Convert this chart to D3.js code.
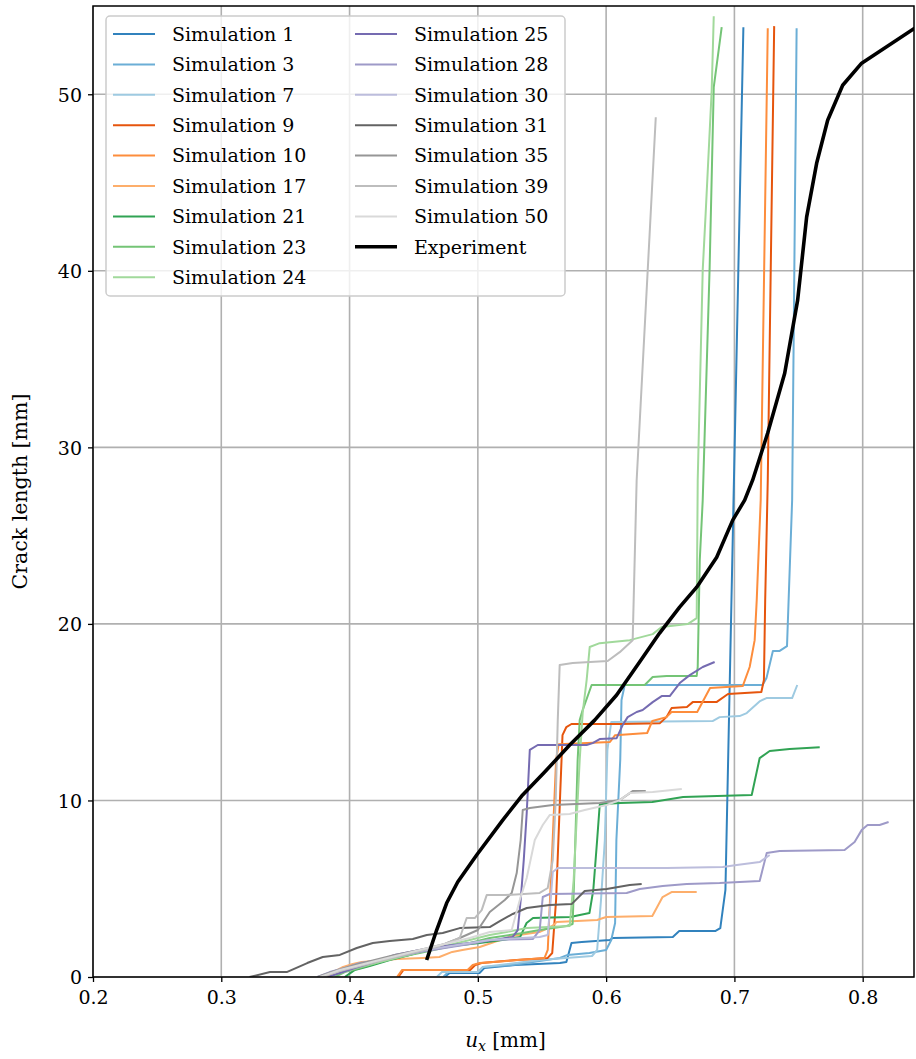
<!DOCTYPE html>
<meta charset="utf-8">
<script src="https://d3js.org/d3.v7.min.js"></script>
<style>
body { margin: 0; background: #fff; }
svg text { font-family: "DejaVu Serif", serif; fill: #000; }
</style>
<svg id="chart" width="916" height="1059"></svg>
<script>
// crack length [mm] against displacement u_x [mm]
const sim1 = [[0.474,0],[0.478,0.23],[0.5015,0.23],[0.505,0.51],[0.529,0.68],[0.564,0.79],[0.569,0.85],[0.573,1.93],[0.581,1.98],[0.603,2.10],[0.605,2.21],[0.652,2.27],[0.657,2.60],[0.685,2.60],[0.689,2.77],[0.693,4.93],[0.707,53.8]];
const sim3 = [[0.473,0],[0.477,0.28],[0.5,0.28],[0.504,0.57],[0.527,0.68],[0.564,1.08],[0.570,1.25],[0.587,1.36],[0.600,1.53],[0.604,2.10],[0.607,3.06],[0.608,7.76],[0.611,12.29],[0.612,15.69],[0.6145,16.54],[0.722,16.54],[0.725,16.93],[0.730,18.46],[0.735,18.46],[0.741,18.74],[0.745,27.0],[0.7485,53.74]];
const sim7 = [[0.468,0],[0.472,0.28],[0.5,0.28],[0.504,0.57],[0.548,0.96],[0.579,1.13],[0.589,1.19],[0.593,1.53],[0.596,4.36],[0.599,7.76],[0.601,12.86],[0.604,14.44],[0.683,14.50],[0.6885,14.72],[0.704,14.78],[0.7096,14.95],[0.720,15.63],[0.725,15.80],[0.745,15.80],[0.749,16.54]];
const sim9 = [[0.438,0],[0.442,0.40],[0.494,0.40],[0.498,0.68],[0.503,0.79],[0.530,0.96],[0.5545,1.08],[0.558,1.36],[0.561,4.36],[0.564,10.02],[0.566,13.70],[0.569,14.16],[0.573,14.33],[0.611,14.33],[0.642,14.38],[0.647,14.72],[0.651,15.23],[0.663,15.29],[0.6675,15.57],[0.686,15.57],[0.695,16.03],[0.721,16.14],[0.723,16.82],[0.724,21.35],[0.726,28.14],[0.731,53.86]];
const sim10 = [[0.437,0],[0.441,0.40],[0.492,0.40],[0.496,0.68],[0.5015,0.79],[0.552,1.08],[0.5545,1.53],[0.558,7.19],[0.561,12.29],[0.563,13.19],[0.603,13.31],[0.607,13.70],[0.632,13.82],[0.636,14.50],[0.647,14.72],[0.651,15.01],[0.671,15.01],[0.681,16.37],[0.7065,16.48],[0.7119,17.56],[0.7158,19.08],[0.7174,21.35],[0.7205,27.01],[0.726,53.74]];
const sim17 = [[0.383,0],[0.389,0.34],[0.395,0.57],[0.4025,0.74],[0.4095,0.85],[0.437,1.02],[0.457,1.08],[0.470,1.13],[0.480,1.42],[0.488,1.53],[0.5015,1.70],[0.515,2.04],[0.527,2.32],[0.548,2.55],[0.558,2.89],[0.5615,3.11],[0.593,3.23],[0.600,3.40],[0.636,3.45],[0.644,4.53],[0.651,4.81],[0.6706,4.81]];
const sim21 = [[0.3963,0],[0.4041,0.40],[0.4157,0.62],[0.4313,0.96],[0.4469,1.25],[0.457,1.47],[0.4726,1.70],[0.5015,1.93],[0.519,2.10],[0.533,2.27],[0.538,3.06],[0.543,3.34],[0.572,3.40],[0.587,3.62],[0.590,4.93],[0.593,7.76],[0.595,9.74],[0.597,9.80],[0.611,9.85],[0.636,9.91],[0.660,10.19],[0.7135,10.31],[0.7197,12.40],[0.7275,12.80],[0.743,12.91],[0.7665,13.02]];
const sim23 = [[0.3885,0],[0.3963,0.28],[0.408,0.51],[0.4235,0.85],[0.4391,1.13],[0.4547,1.36],[0.4726,1.64],[0.4937,1.93],[0.5093,2.21],[0.535,2.49],[0.5482,2.66],[0.5693,2.89],[0.5739,3.00],[0.5755,6.51],[0.5778,12.29],[0.5794,14.55],[0.5817,15.12],[0.5887,16.54],[0.6301,16.54],[0.6363,16.99],[0.6472,17.05],[0.6706,17.05],[0.6714,17.56],[0.673,23.61],[0.6753,27.01],[0.6807,40.21],[0.6839,50.40],[0.6901,53.80]];
const sim24 = [[0.3846,0],[0.3924,0.23],[0.408,0.57],[0.4235,0.85],[0.4391,1.13],[0.4547,1.42],[0.4742,1.76],[0.4937,2.10],[0.5093,2.38],[0.5225,2.55],[0.5381,2.77],[0.5716,2.89],[0.5747,5.49],[0.577,8.89],[0.5794,12.29],[0.5817,14.95],[0.5848,16.82],[0.5872,18.69],[0.595,18.91],[0.6184,19.08],[0.6363,19.42],[0.6433,19.82],[0.6636,19.99],[0.6706,20.33],[0.6714,28.14],[0.6753,40.04],[0.6776,43.27],[0.6823,50.23],[0.6839,54.42]];
const sim25 = [[0.383,0],[0.3924,0.23],[0.4041,0.51],[0.4196,0.85],[0.4352,1.25],[0.4547,1.53],[0.4742,1.76],[0.4937,1.93],[0.5131,2.10],[0.5272,2.27],[0.5311,2.66],[0.5334,4.36],[0.5358,6.63],[0.5381,9.29],[0.5405,12.86],[0.5467,13.14],[0.5848,13.14],[0.5895,13.25],[0.595,13.48],[0.6082,13.53],[0.6129,14.27],[0.6168,14.72],[0.6238,15.01],[0.6285,15.12],[0.6363,15.57],[0.6433,15.91],[0.6496,15.91],[0.6574,16.65],[0.6652,17.10],[0.6753,17.56],[0.6846,17.84]];
const sim28 = [[0.375,0],[0.3846,0.28],[0.3963,0.51],[0.408,0.79],[0.4235,0.96],[0.4391,1.19],[0.4547,1.42],[0.4742,1.64],[0.4937,1.87],[0.5093,2.10],[0.5428,2.15],[0.5482,2.66],[0.5506,4.53],[0.556,4.70],[0.616,4.76],[0.6262,4.98],[0.6441,5.15],[0.6628,5.27],[0.6885,5.32],[0.7197,5.44],[0.7252,7.02],[0.7353,7.14],[0.7859,7.19],[0.7937,7.65],[0.7992,8.32],[0.8038,8.61],[0.8132,8.61],[0.8202,8.78]];
const sim30 = [[0.3768,0],[0.3885,0.34],[0.4025,0.62],[0.4196,0.91],[0.4352,1.19],[0.4547,1.47],[0.4742,1.70],[0.4937,1.93],[0.5093,2.10],[0.5482,2.27],[0.5545,2.38],[0.5568,4.36],[0.5584,5.95],[0.5623,6.17],[0.5973,6.17],[0.6472,6.17],[0.6909,6.23],[0.7018,6.34],[0.7197,6.51],[0.7275,6.91]];
const sim31 = [[0.322,0],[0.338,0.28],[0.351,0.28],[0.367,0.79],[0.3791,1.13],[0.3924,1.25],[0.4056,1.64],[0.4181,1.93],[0.4313,2.04],[0.4493,2.15],[0.4602,2.38],[0.4726,2.49],[0.4859,2.77],[0.5093,2.83],[0.5171,3.17],[0.5272,3.57],[0.5381,3.91],[0.556,4.08],[0.5731,4.13],[0.5833,4.87],[0.6004,4.98],[0.6184,5.21],[0.6277,5.27]];
const sim35 = [[0.375,0],[0.3885,0.34],[0.4041,0.68],[0.4196,0.96],[0.4352,1.25],[0.4547,1.53],[0.4742,1.87],[0.4859,2.21],[0.5,2.66],[0.5093,3.68],[0.521,4.36],[0.5264,4.76],[0.5303,5.89],[0.5334,7.76],[0.535,9.46],[0.5405,9.57],[0.5584,9.74],[0.595,9.85],[0.6106,10.02],[0.6207,10.53],[0.6309,10.53]];
const sim39 = [[0.3783,0],[0.3924,0.34],[0.408,0.62],[0.4235,0.91],[0.4391,1.19],[0.4547,1.47],[0.4703,1.76],[0.4859,2.21],[0.4913,3.34],[0.4976,3.34],[0.503,3.79],[0.5069,4.64],[0.521,4.64],[0.5482,4.76],[0.5545,5.04],[0.5584,6.63],[0.5607,10.02],[0.5623,14.55],[0.5638,17.67],[0.5739,17.78],[0.6012,17.90],[0.6106,18.40],[0.6207,19.08],[0.6238,28.14],[0.6387,48.70]];
const sim50 = [[0.3768,0],[0.3924,0.40],[0.408,0.68],[0.4235,0.96],[0.4391,1.25],[0.4547,1.53],[0.4742,1.87],[0.4937,2.21],[0.5093,2.55],[0.5264,2.66],[0.5327,4.36],[0.5381,5.61],[0.5444,7.76],[0.5506,8.61],[0.556,9.17],[0.5716,9.23],[0.5833,9.46],[0.6004,9.74],[0.6106,10.02],[0.6184,10.42],[0.6363,10.48],[0.659,10.65]];
const experiment = [[0.4601,0.96],[0.4679,2.66],[0.4757,4.19],[0.4843,5.38],[0.4991,6.91],[0.5194,8.89],[0.5349,10.31],[0.5521,11.61],[0.5716,13.14],[0.5911,14.55],[0.6082,15.97],[0.6261,17.84],[0.6417,19.48],[0.6573,20.95],[0.6706,22.08],[0.6862,23.78],[0.6987,25.88],[0.708,27.01],[0.7142,28.14],[0.7259,30.8],[0.7392,34.2],[0.7493,38.34],[0.7563,43.04],[0.7641,46.09],[0.7727,48.53],[0.7844,50.51],[0.7992,51.76],[0.8405,53.74]];

const simNames = ["Simulation 1","Simulation 3","Simulation 7","Simulation 9","Simulation 10","Simulation 17","Simulation 21","Simulation 23","Simulation 24","Simulation 25","Simulation 28","Simulation 30","Simulation 31","Simulation 35","Simulation 39","Simulation 50"];
const simData = [sim1, sim3, sim7, sim9, sim10, sim17, sim21, sim23, sim24, sim25, sim28, sim30, sim31, sim35, sim39, sim50];
const simColors = ["#3182bd","#6baed6","#9ecae1","#e6550d","#fd8d3c","#fdae6b","#31a354","#74c476","#a1d99b","#756bb1","#9e9ac8","#bcbddc","#636363","#969696","#bdbdbd","#d9d9d9"];
const xTicks = [0.2, 0.3, 0.4, 0.5, 0.6, 0.7, 0.8];
const yTicks = [0, 10, 20, 30, 40, 50];

const svg = d3.select("#chart"),
	margin = {top: 6, right: 2, bottom: 82, left: 93},
	width = 916 - margin.left - margin.right,
	height = 1059 - margin.top - margin.bottom;

const x = d3.scaleLinear().domain([0.2, 0.84]).range([0, width]);
const y = d3.scaleLinear().domain([0, 55]).range([height, 0]);

const g = svg.append("g").attr("transform", `translate(${margin.left},${margin.top})`);

g.append("clipPath").attr("id", "clip")
	.append("rect").attr("width", width).attr("height", height);

// grid
g.append("g").selectAll("line").data(xTicks).join("line")
	.attr("x1", d => x(d)).attr("x2", d => x(d))
	.attr("y1", 0).attr("y2", height)
	.attr("stroke", "#b0b0b0").attr("stroke-width", 1.6);
g.append("g").selectAll("line").data(yTicks).join("line")
	.attr("x1", 0).attr("x2", width)
	.attr("y1", d => y(d)).attr("y2", d => y(d))
	.attr("stroke", "#b0b0b0").attr("stroke-width", 1.6);

// curves
const line = d3.line().x(d => x(d[0])).y(d => y(d[1]));
const plot = g.append("g").attr("clip-path", "url(#clip)");
plot.selectAll("path.sim").data(simData).join("path")
	.attr("class", "sim")
	.attr("d", line)
	.attr("fill", "none")
	.attr("stroke", (d, i) => simColors[i])
	.attr("stroke-width", 2)
	.attr("stroke-linejoin", "round");
plot.append("path")
	.attr("d", line(experiment))
	.attr("fill", "none")
	.attr("stroke", "#000")
	.attr("stroke-width", 3.6)
	.attr("stroke-linejoin", "round");

// axes
const xAxis = g.append("g").attr("transform", `translate(0,${height})`)
	.call(d3.axisBottom(x).tickValues(xTicks).tickFormat(d3.format(".1f")).tickSize(5).tickPadding(9));
const yAxis = g.append("g")
	.call(d3.axisLeft(y).tickValues(yTicks).tickSize(5).tickPadding(6));
[xAxis, yAxis].forEach(a => {
	a.select(".domain").remove();
	a.selectAll(".tick line").attr("stroke", "#000").attr("stroke-width", 1.3);
	a.selectAll("text").style("font-family", '"DejaVu Serif", serif').style("font-size", "19px").attr("fill", "#000");
});
yAxis.selectAll("text").attr("dy", "0.36em");

g.append("rect").attr("width", width).attr("height", height)
	.attr("fill", "none").attr("stroke", "#000").attr("stroke-width", 1.5);

// axis titles
const xl = svg.append("text")
	.attr("x", margin.left + width / 2 + 2).attr("y", 1047)
	.attr("text-anchor", "middle").style("font-size", "20px");
xl.append("tspan").style("font-style", "italic").text("u");
xl.append("tspan").style("font-style", "italic").style("font-size", "14px").attr("dy", 4).text("x");
xl.append("tspan").attr("dy", -4).text(" [mm]");

svg.append("text")
	.attr("transform", `translate(27,${margin.top + height / 2}) rotate(-90)`)
	.attr("text-anchor", "middle").style("font-size", "20.5px")
	.text("Crack length [mm]");

// legend
const legNames = simNames.concat(["Experiment"]);
const legColors = simColors.concat(["#000"]);
const legend = svg.append("g").attr("transform", "translate(106,16)");
legend.append("rect")
	.attr("width", 459).attr("height", 280).attr("rx", 4)
	.attr("fill", "#fff").attr("fill-opacity", 0.8)
	.attr("stroke", "#cccccc").attr("stroke-width", 1.5);
const entry = legend.selectAll("g.entry").data(legNames).join("g")
	.attr("class", "entry")
	.attr("transform", (d, i) => `translate(${i < 9 ? 0 : 242},${18 + (i % 9) * 30.4})`);
entry.append("line")
	.attr("x1", 7).attr("x2", 49)
	.attr("stroke", (d, i) => legColors[i])
	.attr("stroke-width", (d, i) => i === 16 ? 3.6 : 2);
entry.append("text")
	.attr("x", 66).attr("dy", "0.36em")
	.style("font-size", "19px")
	.text(d => d);
</script>
